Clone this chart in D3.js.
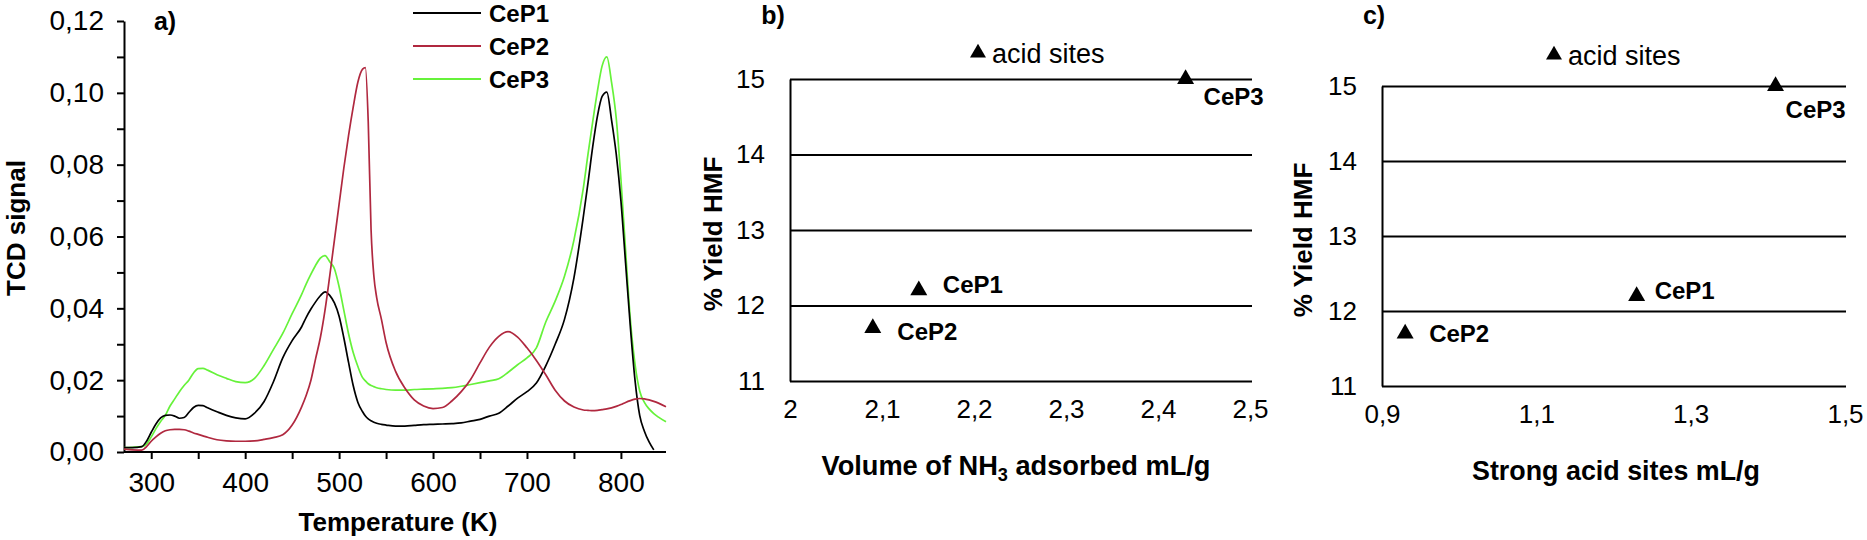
<!DOCTYPE html>
<html>
<head>
<meta charset="utf-8">
<script src="https://cdn.jsdelivr.net/npm/d3@7"></script>
<style>
  html, body { margin: 0; padding: 0; background: #fff; }
  svg { display: block; font-family: "Liberation Sans", Arial, sans-serif; }
</style>
</head>
<body>
<svg id="chart" width="1867" height="540"></svg>
<script>
// ---------------- DATA ----------------
// Panel a) TPD curves
const tempK = [271,280,290,295,300,305,310,315,320,325,
  330,335,340,345,350,355,360,370,380,390,
  400,410,420,430,440,450,460,465,470,475,
  480,485,490,495,500,505,510,515,520,525,
  528,531,534,537,540,545,550,560,570,580,
  590,600,610,620,630,640,650,660,670,680,
  690,700,710,720,730,740,750,760,765,770,
  775,780,785,790,795,800,805,810,815,820,
  825,830,835,840,848];
const cep1Signal = [.0012,.0012,.0015,.0030,.0055,.0078,.0095,.0102,.0103,.0100,
  .0094,.0096,.0110,.0124,.0130,.0129,.0123,.0112,.0102,.0095,
  .0092,.0108,.0140,.0195,.0262,.0310,.0348,.0375,.0398,.0418,
  .0435,.0446,.0436,.0415,.0378,.0318,.0250,.0185,.0138,.0112,
  .0100,.0092,.0087,.0083,.0080,.0077,.0075,.0072,.0072,.0074,
  .0076,.0077,.0078,.0079,.0081,.0086,.0091,.0100,.0108,.0128,
  .0150,.0168,.0192,.0240,.0300,.0370,.0485,.0655,.0750,.0850,
  .0935,.0990,.1002,.0925,.0830,.0700,.0525,.0350,.0200,.0102,
  .0058,.0028,.0006,null,null];
const cep2Signal = [.0008,.0006,.0005,.0015,.0030,.0042,.0052,.0059,.0062,.0063,
  .0063,.0062,.0058,.0053,.0049,.0045,.0041,.0034,.0031,.0030,
  .0030,.0031,.0035,.0040,.0048,.0075,.0125,.0158,.0200,.0260,
  .0318,.0395,.0490,.0590,.0690,.0790,.0880,.0960,.1030,.1066,
  .1070,.0920,.0620,.0490,.0430,.0370,.0305,.0225,.0178,.0145,
  .0128,.0121,.0124,.0142,.0168,.0202,.0248,.0292,.0322,.0335,
  .0320,.0290,.0255,.0215,.0172,.0142,.0125,.0117,.0116,.0115,
  .0116,.0118,.0120,.0123,.0127,.0132,.0138,.0143,.0147,.0149,
  .0148,.0145,.0141,.0136,.0126];
const cep3Signal = [.0012,.0013,.0015,.0022,.0042,.0065,.0085,.0102,.0128,.0148,
  .0168,.0185,.0200,.0220,.0232,.0233,.0228,.0215,.0205,.0196,
  .0193,.0205,.0240,.0285,.0330,.0385,.0438,.0468,.0495,.0520,
  .0540,.0547,.0530,.0510,.0460,.0395,.0330,.0277,.0238,.0207,
  .0198,.0190,.0185,.0182,.0179,.0176,.0174,.0172,.0172,.0174,
  .0175,.0176,.0177,.0179,.0183,.0188,.0193,.0198,.0204,.0222,
  .0243,.0262,.0290,.0362,.0420,.0490,.0590,.0735,.0830,.0920,
  .1005,.1075,.1100,.1030,.0930,.0760,.0560,.0370,.0245,.0170,
  .0138,.0120,.0107,.0097,.0084];
const seriesNames = ["CeP1", "CeP2", "CeP3"];
const xTicksA = [300, 350, 400, 450, 500, 550, 600, 650, 700, 750, 800];
const yTicksA = [0, 0.01, 0.02, 0.03, 0.04, 0.05, 0.06, 0.07, 0.08, 0.09, 0.10, 0.11, 0.12];

// Panels b) and c)
const catalysts = ["CeP1", "CeP2", "CeP3"];
const yieldHMF = [12.2, 11.7, 15.0];
const nh3Volume = [2.14, 2.09, 2.43];
const strongAcid = [1.23, 0.93, 1.41];
const yTicksBC = [11, 12, 13, 14, 15];
const xTicksB = [2, 2.1, 2.2, 2.3, 2.4, 2.5];
const xTicksC = [0.9, 1.1, 1.3, 1.5];

// ---------------- STYLE ----------------
const seriesColors = ["#000000", "#b0283f", "#66f23a"];
const svg = d3.select("#chart");
svg.append("rect").attr("width", 1867).attr("height", 540).attr("fill", "#fff");
const commaFmt = d => String(d).replace(".", ",");

// ---------------- PANEL a ----------------
const xA = d3.scaleLinear().domain([271, 848]).range([124, 666]);
const yA = d3.scaleLinear().domain([0, 0.12]).range([452, 21]);
const gA = svg.append("g");

const axA_x = d3.axisBottom(xA).tickValues(xTicksA).tickSize(7).tickSizeOuter(0).tickPadding(13)
  .tickFormat(d => d % 100 === 0 ? String(d) : "");
gA.append("g").attr("transform", "translate(0,452)").call(axA_x)
  .call(g => g.select(".domain").attr("d", `M${xA.range()[0]},0H${xA.range()[1]}`))
  .call(g => g.selectAll("path,line").attr("stroke", "#000").attr("stroke-width", 2))
  .call(g => g.selectAll("text").attr("font-size", 28).attr("fill", "#000"));

const axA_y = d3.axisLeft(yA).tickValues(yTicksA).tickSize(7).tickSizeOuter(0).tickPadding(13)
  .tickFormat(d => Math.round(d * 100) % 2 === 0 ? d3.format(".2f")(d).replace(".", ",") : "");
gA.append("g").attr("transform", "translate(124,0)").call(axA_y)
  .call(g => g.selectAll("path,line").attr("stroke", "#000").attr("stroke-width", 2))
  .call(g => g.selectAll("text").attr("font-size", 28).attr("fill", "#000"));

const signals = [cep1Signal, cep2Signal, cep3Signal];
const lineA = d3.line()
  .defined(d => d[1] != null)
  .x(d => xA(d[0])).y(d => yA(d[1]))
  .curve(d3.curveMonotoneX);
// draw green, black, red order similar to reference layering
[2, 0, 1].forEach(i => {
  gA.append("path")
    .datum(tempK.map((t, k) => [t, signals[i][k]]))
    .attr("d", lineA)
    .attr("fill", "none")
    .attr("stroke", seriesColors[i])
    .attr("stroke-width", 1.7)
    .attr("stroke-linejoin", "round");
});

// legend
const legRowsY = [13, 46, 79];
seriesNames.forEach((n, i) => {
  gA.append("line").attr("x1", 413).attr("x2", 481).attr("y1", legRowsY[i]).attr("y2", legRowsY[i])
    .attr("stroke", seriesColors[i]).attr("stroke-width", 2);
  gA.append("text").attr("x", 489).attr("y", legRowsY[i] + 8.6)
    .attr("font-size", 24).attr("font-weight", "bold").text(n);
});
gA.append("text").attr("x", 165).attr("y", 30).attr("text-anchor", "middle")
  .attr("font-size", 25).attr("font-weight", "bold").text("a)");
gA.append("text").attr("x", 398).attr("y", 531).attr("text-anchor", "middle")
  .attr("font-size", 26).attr("font-weight", "bold").text("Temperature (K)");
gA.append("text").attr("transform", "translate(25,228) rotate(-90)").attr("text-anchor", "middle")
  .attr("font-size", 26).attr("font-weight", "bold").text("TCD signal");

// ---------------- PANELS b & c ----------------
const tri = d3.symbol().type(d3.symbolTriangle).size(125);

function scatterPanel(opt) {
  const g = svg.append("g");
  const x = d3.scaleLinear().domain(opt.xDomain).range(opt.xRange);
  const y = d3.scaleLinear().domain([11, 15]).range(opt.yRange);
  const gridW = opt.gridEnd - opt.xRange[0];

  const ay = d3.axisLeft(y).tickValues(yTicksBC).tickSize(-gridW).tickSizeOuter(0).tickPadding(25)
    .tickFormat(d => String(d));
  g.append("g").attr("transform", `translate(${opt.xRange[0]},0)`).call(ay)
    .call(gg => gg.selectAll("path,line").attr("stroke", "#000").attr("stroke-width", 2))
    .call(gg => gg.selectAll("text").attr("font-size", 26).attr("fill", "#000"));

  const ax = d3.axisBottom(x).tickValues(opt.xTicks).tickSize(0).tickPadding(19)
    .tickFormat(commaFmt);
  g.append("g").attr("transform", `translate(0,${opt.yRange[0]})`).call(ax)
    .call(gg => gg.select(".domain").remove())
    .call(gg => gg.selectAll("text").attr("font-size", 26).attr("fill", "#000"));

  catalysts.forEach((c, i) => {
    const px = x(opt.xVals[i]), py = y(yieldHMF[i]);
    g.append("path").attr("d", tri).attr("transform", `translate(${px},${py})`).attr("fill", "#000");
    g.append("text").attr("x", px + opt.labOff[i][0]).attr("y", py + opt.labOff[i][1])
      .attr("font-size", 24).attr("font-weight", "bold").text(c);
  });

  // legend
  g.append("path").attr("d", d3.symbol().type(d3.symbolTriangle).size(110))
    .attr("transform", `translate(${opt.legX},${opt.legY})`).attr("fill", "#000");
  g.append("text").attr("x", opt.legX + 14).attr("y", opt.legY + 10)
    .attr("font-size", 27).text("acid sites");

  g.append("text").attr("x", opt.tagX).attr("y", 24).attr("text-anchor", "middle")
    .attr("font-size", 25).attr("font-weight", "bold").text(opt.tag);

  g.append("text").attr("transform", `translate(${opt.yLabX},${(opt.yRange[0] + opt.yRange[1]) / 2 + 4}) rotate(-90)`)
    .attr("text-anchor", "middle").attr("font-size", 26).attr("font-weight", "bold").text("% Yield HMF");

  const xl = g.append("text").attr("x", opt.xLabX).attr("y", opt.yRange[0] + 94)
    .attr("text-anchor", "middle").attr("font-size", 27).attr("font-weight", "bold")
    .attr("textLength", opt.xLabW).attr("lengthAdjust", "spacingAndGlyphs");
  opt.xLabParts.forEach(p => {
    const t = xl.append("tspan").text(p.t);
    if (p.sub) t.attr("font-size", 18).attr("dy", 6);
    if (p.after) t.attr("dy", -6);
  });
}

scatterPanel({
  xDomain: [2, 2.5], xRange: [790, 1250], yRange: [381, 79], gridEnd: 1252,
  xTicks: xTicksB, xVals: nh3Volume,
  labOff: [[24, 3], [24.5, 12], [18, 26]],
  legX: 978, legY: 53, tag: "b)", tagX: 773, yLabX: 722,
  xLabX: 1016, xLabW: 389,
  xLabParts: [{t: "Volume of NH"}, {t: "3", sub: true}, {t: " adsorbed mL/g", after: true}]
});
scatterPanel({
  xDomain: [0.9, 1.5], xRange: [1382, 1845], yRange: [386, 86], gridEnd: 1846,
  xTicks: xTicksC, xVals: strongAcid,
  labOff: [[18, 3], [24, 8], [10, 32]],
  legX: 1554, legY: 55, tag: "c)", tagX: 1374, yLabX: 1312,
  xLabX: 1616, xLabW: 288,
  xLabParts: [{t: "Strong acid sites mL/g"}]
});
</script>
</body>
</html>
